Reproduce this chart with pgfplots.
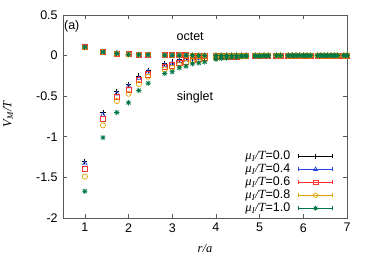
\documentclass[border=0pt]{standalone}
\usepackage{fontspec}
\setmainfont{Liberation Sans}
\newfontfamily\tms{Liberation Serif}
\usepackage{pgfplots}
\usepackage{pgfplotstable}
\pgfplotsset{compat=1.18}
\definecolor{cA}{RGB}{0,0,0}
\definecolor{cB}{RGB}{40,70,225}
\definecolor{cC}{RGB}{250,50,50}
\definecolor{cD}{RGB}{220,165,0}
\definecolor{cE}{RGB}{0,120,70}
\newcommand{\fs}{\fontsize{12.5}{14}\selectfont}
\newcommand{\muI}{{\tms\itshape μ\textsubscript{I}/T}}
\pgfdeclareplotmark{gpast}{%
  \pgfpathmoveto{\pgfqpoint{-\pgfplotmarksize}{0pt}}\pgfpathlineto{\pgfqpoint{\pgfplotmarksize}{0pt}}%
  \pgfpathmoveto{\pgfqpoint{0pt}{-\pgfplotmarksize}}\pgfpathlineto{\pgfqpoint{0pt}{\pgfplotmarksize}}%
  \pgfpathmoveto{\pgfqpoint{-0.75\pgfplotmarksize}{-0.75\pgfplotmarksize}}\pgfpathlineto{\pgfqpoint{0.75\pgfplotmarksize}{0.75\pgfplotmarksize}}%
  \pgfpathmoveto{\pgfqpoint{-0.75\pgfplotmarksize}{0.75\pgfplotmarksize}}\pgfpathlineto{\pgfqpoint{0.75\pgfplotmarksize}{-0.75\pgfplotmarksize}}%
  \pgfusepathqstroke}
\pgfplotstableread{
r s0 s4 s6 s8 s10
1.000 -1.30 -1.33 -1.39 -1.49 -1.67
1.414 -0.70 -0.73 -0.78 -0.86 -1.01
1.732 -0.44 -0.47 -0.51 -0.56 -0.70
2.000 -0.36 -0.38 -0.42 -0.47 -0.58
2.236 -0.25 -0.28 -0.30 -0.35 -0.43
2.449 -0.18 -0.20 -0.23 -0.26 -0.34
2.828 -0.10 -0.12 -0.14 -0.17 -0.22
3.000 -0.08 -0.10 -0.12 -0.15 -0.20
3.162 -0.05 -0.07 -0.09 -0.11 -0.15
3.317 -0.04 -0.05 -0.07 -0.09 -0.13
3.464 -0.03 -0.04 -0.05 -0.07 -0.10
3.606 -0.02 -0.03 -0.04 -0.06 -0.09
3.742 -0.02 -0.02 -0.03 -0.05 -0.08
4.000 -0.01 -0.01 -0.02 -0.03 -0.045
4.123 -0.01 -0.01 -0.01 -0.02 -0.035
4.243 0.00 -0.01 -0.01 -0.02 -0.03
4.359 0.00 0.00 -0.01 -0.01 -0.02
4.472 0.00 0.00 -0.01 -0.01 -0.02
4.583 0.00 0.00 0.00 -0.01 -0.015
4.690 0.00 0.00 0.00 -0.01 -0.01
4.899 0.00 0.00 0.00 0.00 -0.01
5.000 0.00 0.00 0.00 0.00 -0.01
5.099 0.00 0.00 0.00 0.00 -0.005
5.196 0.00 0.00 0.00 0.00 -0.005
5.385 0.00 0.00 0.00 0.00 0.00
5.477 0.00 0.00 0.00 0.00 0.00
5.657 0.00 0.00 0.00 0.00 0.00
5.745 0.00 0.00 0.00 0.00 0.00
5.831 0.00 0.00 0.00 0.00 0.00
5.916 0.00 0.00 0.00 0.00 0.00
6.000 0.00 0.00 0.00 0.00 0.00
6.083 0.00 0.00 0.00 0.00 0.00
6.164 0.00 0.00 0.00 0.00 0.00
6.325 0.00 0.00 0.00 0.00 0.00
6.403 0.00 0.00 0.00 0.00 0.00
6.481 0.00 0.00 0.00 0.00 0.00
6.557 0.00 0.00 0.00 0.00 0.00
6.633 0.00 0.00 0.00 0.00 0.00
6.708 0.00 0.00 0.00 0.00 0.00
6.782 0.00 0.00 0.00 0.00 0.00
6.928 0.00 0.00 0.00 0.00 0.00
7.000 0.00 0.00 0.00 0.00 0.00
}\singlet
\pgfplotstableread{
r o0 o4 o6 o8 o10
1.000 0.110 0.110 0.105 0.100 0.105
1.414 0.050 0.050 0.045 0.045 0.045
1.732 0.030 0.030 0.025 0.025 0.025
2.000 0.020 0.020 0.020 0.015 0.015
2.236 0.010 0.010 0.010 0.010 0.010
2.449 0.010 0.010 0.010 0.010 0.010
2.828 0.005 0.005 0.005 0.005 0.005
3.000 0.005 0.005 0.005 0.005 0.005
3.162 0.005 0.005 0.005 0.005 0.005
3.317 0.005 0.005 0.005 0.005 0.005
3.464 0.000 0.000 0.000 0.000 0.000
3.606 0.000 0.000 0.000 0.000 0.000
3.742 0.000 0.000 0.000 0.000 0.000
4.000 0.000 0.000 0.000 0.000 0.000
4.123 0.000 0.000 0.000 0.000 0.000
4.243 0.000 0.000 0.000 0.000 0.000
4.359 0.000 0.000 0.000 0.000 0.000
4.472 0.000 0.000 0.000 0.000 0.000
4.583 0.000 0.000 0.000 0.000 0.000
4.690 0.000 0.000 0.000 0.000 0.000
4.899 0.000 0.000 0.000 0.000 0.000
5.000 0.000 0.000 0.000 0.000 0.000
5.099 0.000 0.000 0.000 0.000 0.000
5.196 0.000 0.000 0.000 0.000 0.000
5.385 0.000 0.000 0.000 0.000 0.000
5.477 0.000 0.000 0.000 0.000 0.000
5.657 0.000 0.000 0.000 0.000 0.000
5.745 0.000 0.000 0.000 0.000 0.000
5.831 0.000 0.000 0.000 0.000 0.000
5.916 0.000 0.000 0.000 0.000 0.000
6.000 0.000 0.000 0.000 0.000 0.000
6.083 0.000 0.000 0.000 0.000 0.000
6.164 0.000 0.000 0.000 0.000 0.000
6.325 0.000 0.000 0.000 0.000 0.000
6.403 0.000 0.000 0.000 0.000 0.000
6.481 0.000 0.000 0.000 0.000 0.000
6.557 0.000 0.000 0.000 0.000 0.000
6.633 0.000 0.000 0.000 0.000 0.000
6.708 0.000 0.000 0.000 0.000 0.000
6.782 0.000 0.000 0.000 0.000 0.000
6.928 0.000 0.000 0.000 0.000 0.000
7.000 0.000 0.000 0.000 0.000 0.000
}\octet
\begin{document}
\fs
\begin{tikzpicture}
\begin{axis}[
  name=ax,
  width=284pt, height=203pt, scale only axis,
  xmin=0.5, xmax=7, ymin=-2, ymax=0.5,
  xtick={1,2,3,4,5,6,7},
  ytick={-2,-1.5,-1,-0.5,0,0.5},
  yticklabels={-2,-1.5,-1,-0.5,0,0.5},
  xticklabels={1,2,3,4,5,6,7},
  tick align=inside, major tick length=4pt,
  axis line style={black!65, line width=0.8pt},
  tick style={black!65, line width=0.6pt},
  xticklabel style={font=\fs, yshift=-1pt},
  yticklabel style={font=\fs, xshift=-1pt},
  xlabel={\tms\itshape r/a}, ylabel={\tms\itshape V\textsubscript{M}/T},
  xlabel style={at={(axis description cs:0.5,-0.148)}, anchor=center, font=\fs},
  ylabel style={at={(axis description cs:-0.193,0.51)}, anchor=center, font=\fs},
  mark size=2.6pt,
  legend plot pos=right,
  legend cell align=right,
  legend style={draw=none, fill=none, at={(axis description cs:0.951,0.015)}, anchor=south east,
    inner sep=0pt, row sep=0pt, column sep=8pt, font=\fs,
    nodes={inner sep=0pt, text height=9.5pt, text depth=3.5pt, font=\fs}},
  legend image code/.code={
    \draw[#1, mark=none, line width=0.6pt] (0pt,0pt) -- (34pt,0pt);
    \draw[#1, mark=none, line width=0.6pt] (0pt,-2pt) -- (0pt,2pt) (34pt,-2pt) -- (34pt,2pt);
    \draw[#1, only marks, mark size=2.3pt] plot coordinates {(17pt,0pt)};
  },
]
\addplot[only marks, mark=+, cA, line width=0.7pt] table[x=r, y=s0] {\singlet};
\addlegendentry{\fs\muI=0.0}
\addplot[only marks, mark=+, cA, line width=0.7pt, forget plot] table[x=r, y=o0] {\octet};
\addplot[only marks, mark=triangle, cB, line width=0.7pt] table[x=r, y=s4] {\singlet};
\addlegendentry{\fs\muI=0.4}
\addplot[only marks, mark=triangle, cB, line width=0.7pt, forget plot] table[x=r, y=o4] {\octet};
\addplot[only marks, mark=square, cC, line width=0.7pt] table[x=r, y=s6] {\singlet};
\addlegendentry{\fs\muI=0.6}
\addplot[only marks, mark=square, cC, line width=0.7pt, forget plot] table[x=r, y=o6] {\octet};
\addplot[only marks, mark=o, cD, line width=0.7pt] table[x=r, y=s8] {\singlet};
\addlegendentry{\fs\muI=0.8}
\addplot[only marks, mark=o, cD, line width=0.7pt, forget plot] table[x=r, y=o8] {\octet};
\addplot[only marks, mark=gpast, cE, line width=0.7pt] table[x=r, y=s10] {\singlet};
\addlegendentry{\fs\muI=1.0}
\addplot[only marks, mark=gpast, cE, line width=0.7pt, forget plot] table[x=r, y=o10] {\octet};
\node[anchor=center] at (axis cs:0.70,0.367) {(a)};
\node[anchor=center] at (axis cs:3.41,0.235) {octet};
\node[anchor=center] at (axis cs:3.52,-0.51) {singlet};
\end{axis}
\pgfresetboundingbox
\path[use as bounding box] ([shift={(-63pt,-41pt)}]ax.south west) rectangle ([shift={(23pt,15pt)}]ax.north east);
\end{tikzpicture}
\end{document}
